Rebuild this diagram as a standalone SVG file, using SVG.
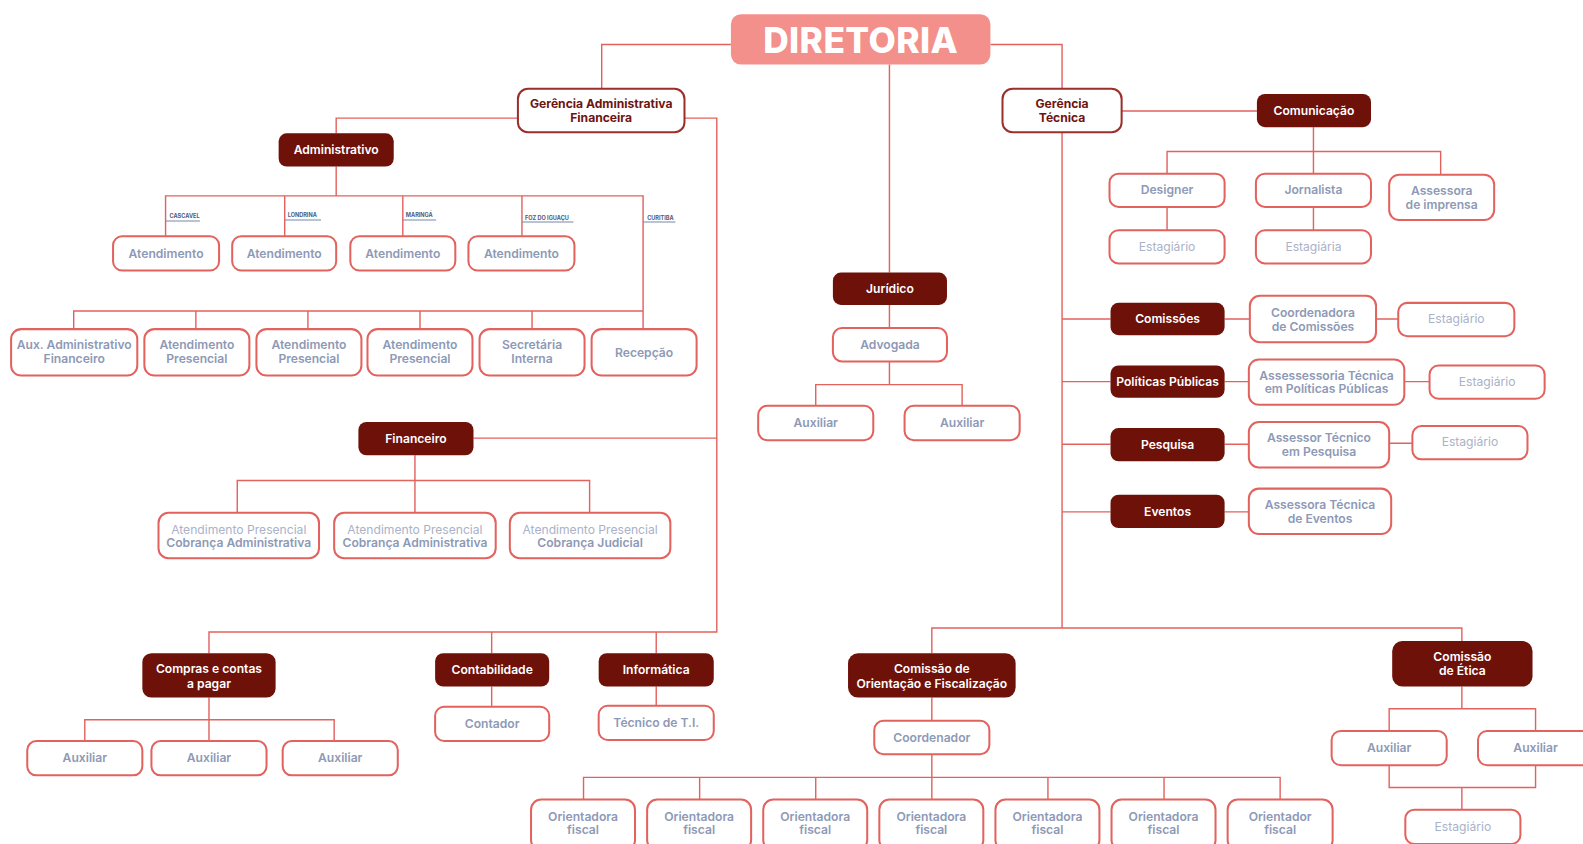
<svg xmlns="http://www.w3.org/2000/svg" width="1583" height="844" viewBox="0 0 1583 844">
<style>
.dk{fill:#6e1109}
.wb{fill:#fff;stroke:#e2625e;stroke-width:2}
.gb{fill:#fff;stroke:#9b2f2a;stroke-width:2}
.ln{fill:none;stroke:#e2625e;stroke-width:1.4}
text{font-family:Inter,"Open Sans","Liberation Sans",sans-serif;text-anchor:middle}
.tw{fill:#fff;font-size:12px;font-weight:600}
.tg{fill:#8e99b6;font-size:12px;font-weight:600}
.tl{fill:#aab2c8;font-size:12px;font-weight:400}
.tr{fill:#6e1410;font-size:12px;font-weight:700}
.ct{fill:#4d5d80;font-size:5.5px;font-weight:700;text-anchor:start}
.cu{fill:none;stroke:#7886a3;stroke-width:1}
</style>
<rect width="1583" height="844" fill="#fff"/>
<g transform="scale(1.00957)">
<g id="connectors">
<path class="ln" d="M724,44 H596 V88 M981,44 H1052 V88 M881,64 V270"/>
<path class="ln" d="M513,117 H333 V132 M678,117 H710 V626 H207 V647 M487,626 V647 M650,626 V647 M469,434 H710"/>
<path class="ln" d="M333,165 V194 M164,234 V194 H637 V326 M282,194 V234 M399,194 V234 M517,194 V234"/>
<path class="ln" d="M73,326 V308 H637 M194,308 V326 M305,308 V326 M416,308 V326 M527,308 V326"/>
<path class="ln" d="M411,451 V508 M235,508 V476 H584 V508"/>
<path class="ln" d="M207,691 V734 M84,734 V713 H331 V734 M487,680 V700 M650,680 V699"/>
<path class="ln" d="M881,302 V325 M881,358 V381 M808,402 V381 H953 V402"/>
<path class="ln" d="M1111,110 H1245 M1301,126 V172 M1156,172 V150 H1427 V173 M1156,205 V228 M1301,205 V228"/>
<path class="ln" d="M1052,131 V622 M1052,316 H1100 M1052,378 H1100 M1052,440 H1100 M1052,507 H1100"/>
<path class="ln" d="M1213,316 H1238 M1363,316 H1385 M1213,378 H1237 M1391,378 H1416 M1213,440 H1237 M1376,439 H1399 M1213,507 H1237"/>
<path class="ln" d="M923,647 V622 H1448 V635 M923,691 V714 M923,747 V792 M578,792 V770 H1268 V792 M693,770 V792 M808,770 V792 M1038,770 V792 M1153,770 V792"/>
<path class="ln" d="M1448,680 V702 M1376,724 V702 H1521 V724 M1376,758 V780 H1521 V758 M1448,780 V802"/>
</g>
<g id="city-labels">
<path class="cu" d="M164,219 H198 M282,218 H318 M399,218 H432 M517,220 H568 M637,220 H669"/>
<text class="ct" x="168" y="216">CASCAVEL</text>
<text class="ct" x="285" y="215">LONDRINA</text>
<text class="ct" x="402" y="215">MARINGÁ</text>
<text class="ct" x="520" y="217.5">FOZ DO IGUAÇU</text>
<text class="ct" x="641" y="217.5">CURITIBA</text>
</g>
<g id="diretoria"><rect x="724" y="14" width="257" height="50" rx="10" fill="#f4908b"/><text x="852.5" y="52.5" fill="#fff" style="font-size:35px;font-weight:800;letter-spacing:0.4px">DIRETORIA</text></g>
<g id="ger-adm"><rect class="gb" x="513" y="88" width="165" height="43" rx="10"/><text class="tr" x="595.5" y="107">Gerência Administrativa</text><text class="tr" x="595.5" y="121">Financeira</text></g>
<g id="ger-tec"><rect class="gb" x="993" y="88" width="118" height="43" rx="10"/><text class="tr" x="1052" y="107">Gerência</text><text class="tr" x="1052" y="121">Técnica</text></g>
<g id="administrativo"><rect class="dk" x="276" y="132" width="114" height="33" rx="8"/><text class="tw" x="333" y="152.5">Administrativo</text></g>
<g id="at1"><rect class="wb" x="112" y="234" width="105" height="34" rx="9"/><text class="tg" x="164.5" y="255.5">Atendimento</text></g>
<g id="at2"><rect class="wb" x="230" y="234" width="103" height="34" rx="9"/><text class="tg" x="281.5" y="255.5">Atendimento</text></g>
<g id="at3"><rect class="wb" x="347" y="234" width="104" height="34" rx="9"/><text class="tg" x="399" y="255.5">Atendimento</text></g>
<g id="at4"><rect class="wb" x="464" y="234" width="105" height="34" rx="9"/><text class="tg" x="516.5" y="255.5">Atendimento</text></g>
<g id="aux-adm"><rect class="wb" x="11" y="326" width="125" height="46" rx="10"/><text class="tg" x="73.5" y="346">Aux. Administrativo</text><text class="tg" x="73.5" y="360">Financeiro</text></g>
<g id="ap1"><rect class="wb" x="143" y="326" width="104" height="46" rx="10"/><text class="tg" x="195" y="346">Atendimento</text><text class="tg" x="195" y="360">Presencial</text></g>
<g id="ap2"><rect class="wb" x="254" y="326" width="104" height="46" rx="10"/><text class="tg" x="306" y="346">Atendimento</text><text class="tg" x="306" y="360">Presencial</text></g>
<g id="ap3"><rect class="wb" x="364" y="326" width="104" height="46" rx="10"/><text class="tg" x="416" y="346">Atendimento</text><text class="tg" x="416" y="360">Presencial</text></g>
<g id="sec"><rect class="wb" x="475" y="326" width="104" height="46" rx="10"/><text class="tg" x="527" y="346">Secretária</text><text class="tg" x="527" y="360">Interna</text></g>
<g id="recepcao"><rect class="wb" x="586" y="326" width="104" height="46" rx="10"/><text class="tg" x="638" y="353.5">Recepção</text></g>
<g id="financeiro"><rect class="dk" x="355" y="418" width="114" height="33" rx="8"/><text class="tw" x="412" y="438.5">Financeiro</text></g>
<g id="fin1"><rect class="wb" x="157" y="508" width="159" height="45" rx="10"/><text class="tl" x="236.5" y="528.5">Atendimento Presencial</text><text class="tg" x="236.5" y="542">Cobrança Administrativa</text></g>
<g id="fin2"><rect class="wb" x="331" y="508" width="160" height="45" rx="10"/><text class="tl" x="411" y="528.5">Atendimento Presencial</text><text class="tg" x="411" y="542">Cobrança Administrativa</text></g>
<g id="fin3"><rect class="wb" x="505" y="508" width="159" height="45" rx="10"/><text class="tl" x="584.5" y="528.5">Atendimento Presencial</text><text class="tg" x="584.5" y="542">Cobrança Judicial</text></g>
<g id="compras"><rect class="dk" x="141" y="647" width="132" height="44" rx="9"/><text class="tw" x="207" y="667">Compras e contas</text><text class="tw" x="207" y="681">a pagar</text></g>
<g id="contabilidade"><rect class="dk" x="431" y="647" width="113" height="33" rx="8"/><text class="tw" x="487.5" y="667.5">Contabilidade</text></g>
<g id="informatica"><rect class="dk" x="593" y="647" width="114" height="33" rx="8"/><text class="tw" x="650" y="667.5">Informática</text></g>
<g id="cp-aux1"><rect class="wb" x="27" y="734" width="114" height="34" rx="9"/><text class="tg" x="84" y="755">Auxiliar</text></g>
<g id="cp-aux2"><rect class="wb" x="150" y="734" width="114" height="34" rx="9"/><text class="tg" x="207" y="755">Auxiliar</text></g>
<g id="cp-aux3"><rect class="wb" x="280" y="734" width="114" height="34" rx="9"/><text class="tg" x="337" y="755">Auxiliar</text></g>
<g id="contador"><rect class="wb" x="431" y="700" width="113" height="34" rx="9"/><text class="tg" x="487.5" y="721">Contador</text></g>
<g id="tecnico-ti"><rect class="wb" x="593" y="699" width="114" height="34" rx="9"/><text class="tg" x="650" y="720">Técnico de T.I.</text></g>
<g id="juridico"><rect class="dk" x="825" y="270" width="113" height="32" rx="8"/><text class="tw" x="881.5" y="290">Jurídico</text></g>
<g id="advogada"><rect class="wb" x="825" y="325" width="113" height="33" rx="9"/><text class="tg" x="881.5" y="345.5">Advogada</text></g>
<g id="jur-aux1"><rect class="wb" x="751" y="402" width="114" height="34" rx="9"/><text class="tg" x="808" y="423">Auxiliar</text></g>
<g id="jur-aux2"><rect class="wb" x="896" y="402" width="114" height="34" rx="9"/><text class="tg" x="953" y="423">Auxiliar</text></g>
<g id="comunicacao"><rect class="dk" x="1245" y="93" width="113" height="33" rx="8"/><text class="tw" x="1301.5" y="114">Comunicação</text></g>
<g id="designer"><rect class="wb" x="1099" y="172" width="114" height="33" rx="9"/><text class="tg" x="1156" y="192">Designer</text></g>
<g id="jornalista"><rect class="wb" x="1244" y="172" width="114" height="33" rx="9"/><text class="tg" x="1301" y="192">Jornalista</text></g>
<g id="assessora-imprensa"><rect class="wb" x="1376" y="173" width="104" height="45" rx="10"/><text class="tg" x="1428" y="193">Assessora</text><text class="tg" x="1428" y="207">de imprensa</text></g>
<g id="est-designer"><rect class="wb" x="1099" y="228" width="114" height="33" rx="9"/><text class="tl" x="1156" y="248.5">Estagiário</text></g>
<g id="est-jornalista"><rect class="wb" x="1244" y="228" width="114" height="33" rx="9"/><text class="tl" x="1301" y="248.5">Estagiária</text></g>
<g id="comissoes"><rect class="dk" x="1100" y="300" width="113" height="32" rx="8"/><text class="tw" x="1156.5" y="320">Comissões</text></g>
<g id="coord-comissoes"><rect class="wb" x="1238" y="293" width="125" height="46" rx="10"/><text class="tg" x="1300.5" y="313.5">Coordenadora</text><text class="tg" x="1300.5" y="327.5">de Comissões</text></g>
<g id="est-comissoes"><rect class="wb" x="1385" y="300" width="115" height="33" rx="9"/><text class="tl" x="1442.5" y="320">Estagiário</text></g>
<g id="politicas"><rect class="dk" x="1100" y="362" width="113" height="32" rx="8"/><text class="tw" x="1156.5" y="382">Políticas Públicas</text></g>
<g id="assess-politicas"><rect class="wb" x="1237" y="356" width="154" height="45" rx="10"/><text class="tg" x="1314" y="376">Assessessoria Técnica</text><text class="tg" x="1314" y="389.5">em Políticas Públicas</text></g>
<g id="est-politicas"><rect class="wb" x="1416" y="362" width="114" height="33" rx="9"/><text class="tl" x="1473" y="382">Estagiário</text></g>
<g id="pesquisa"><rect class="dk" x="1100" y="424" width="113" height="33" rx="8"/><text class="tw" x="1156.5" y="444.5">Pesquisa</text></g>
<g id="assess-pesquisa"><rect class="wb" x="1237" y="418" width="139" height="45" rx="10"/><text class="tg" x="1306.5" y="438">Assessor Técnico</text><text class="tg" x="1306.5" y="451.5">em Pesquisa</text></g>
<g id="est-pesquisa"><rect class="wb" x="1399" y="422" width="114" height="33" rx="9"/><text class="tl" x="1456" y="442">Estagiário</text></g>
<g id="eventos"><rect class="dk" x="1100" y="490" width="113" height="33" rx="8"/><text class="tw" x="1156.5" y="511">Eventos</text></g>
<g id="assess-eventos"><rect class="wb" x="1237" y="484" width="141" height="45" rx="10"/><text class="tg" x="1307.5" y="504.5">Assessora Técnica</text><text class="tg" x="1307.5" y="518">de Eventos</text></g>
<g id="cof"><rect class="dk" x="840" y="647" width="166" height="44" rx="10"/><text class="tw" x="923" y="667">Comissão de</text><text class="tw" x="923" y="681">Orientação e Fiscalização</text></g>
<g id="coordenador"><rect class="wb" x="866" y="714" width="114" height="33" rx="9"/><text class="tg" x="923" y="734.5">Coordenador</text></g>
<g id="of1"><rect class="wb" x="526" y="792" width="103" height="50" rx="10"/><text class="tg" x="577.5" y="813">Orientadora</text><text class="tg" x="577.5" y="826">fiscal</text></g>
<g id="of2"><rect class="wb" x="641" y="792" width="103" height="50" rx="10"/><text class="tg" x="692.5" y="813">Orientadora</text><text class="tg" x="692.5" y="826">fiscal</text></g>
<g id="of3"><rect class="wb" x="756" y="792" width="103" height="50" rx="10"/><text class="tg" x="807.5" y="813">Orientadora</text><text class="tg" x="807.5" y="826">fiscal</text></g>
<g id="of4"><rect class="wb" x="871" y="792" width="103" height="50" rx="10"/><text class="tg" x="922.5" y="813">Orientadora</text><text class="tg" x="922.5" y="826">fiscal</text></g>
<g id="of5"><rect class="wb" x="986" y="792" width="103" height="50" rx="10"/><text class="tg" x="1037.5" y="813">Orientadora</text><text class="tg" x="1037.5" y="826">fiscal</text></g>
<g id="of6"><rect class="wb" x="1101" y="792" width="103" height="50" rx="10"/><text class="tg" x="1152.5" y="813">Orientadora</text><text class="tg" x="1152.5" y="826">fiscal</text></g>
<g id="of7"><rect class="wb" x="1216" y="792" width="104" height="50" rx="10"/><text class="tg" x="1268" y="813">Orientador</text><text class="tg" x="1268" y="826">fiscal</text></g>
<g id="etica"><rect class="dk" x="1379" y="635" width="139" height="45" rx="10"/><text class="tw" x="1448.5" y="655">Comissão</text><text class="tw" x="1448.5" y="669">de Ética</text></g>
<g id="et-aux1"><rect class="wb" x="1319" y="724" width="114" height="34" rx="9"/><text class="tg" x="1376" y="745">Auxiliar</text></g>
<g id="et-aux2"><rect class="wb" x="1464" y="724" width="114" height="34" rx="9"/><text class="tg" x="1521" y="745">Auxiliar</text></g>
<g id="est-etica"><rect class="wb" x="1392" y="802" width="114" height="34" rx="9"/><text class="tl" x="1449" y="823">Estagiário</text></g>
</g>
</svg>
